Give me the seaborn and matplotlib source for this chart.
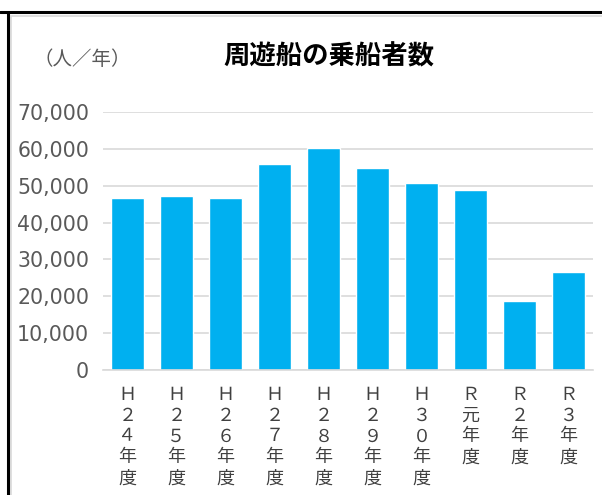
import matplotlib
matplotlib.use('Agg')
import matplotlib.pyplot as plt
import seaborn as sns
from matplotlib.lines import Line2D
from matplotlib.patches import Rectangle
from matplotlib.ticker import FuncFormatter

# data
years = ['Ｈ２４年度', 'Ｈ２５年度', 'Ｈ２６年度', 'Ｈ２７年度', 'Ｈ２８年度',
         'Ｈ２９年度', 'Ｈ３０年度', 'Ｒ元年度', 'Ｒ２年度', 'Ｒ３年度']
passengers = [46750, 47250, 46750, 55800, 60200, 54700, 50850, 48800, 18600, 26500]
yticks = [0, 10000, 20000, 30000, 40000, 50000, 60000, 70000]

sns.set_style('white')
plt.rcParams['font.family'] = ['Liberation Sans', 'Noto Sans CJK JP', 'DejaVu Sans']

fig = plt.figure(figsize=(6.02, 4.95), dpi=100)
ax = fig.add_axes([0.171, 0.2525, 0.814, 0.5212])

# stacked vertical labels
vlabels = ['\n'.join(list(y)) for y in years]
sns.barplot(x=vlabels, y=passengers, color='#00B0F0', saturation=1,
            width=0.67, ax=ax)

ax.set_xlim(-0.5, 9.5)
ax.set_ylim(0, 70000)
ax.set_yticks(yticks)
ax.yaxis.set_major_formatter(FuncFormatter(lambda v, p: f'{int(v):,}'))
ax.grid(axis='y', color='#D9D9D9', linewidth=1.2)
ax.set_axisbelow(True)
for s in ['left', 'right', 'top']:
    ax.spines[s].set_visible(False)
ax.spines['bottom'].set_color('#D9D9D9')
ax.spines['bottom'].set_linewidth(1.2)
ax.tick_params(axis='y', length=0, pad=10, labelcolor='#595959')
ax.tick_params(axis='x', length=0, pad=12, labelsize=13, labelcolor='#404040')
for t in ax.get_yticklabels():
    t.set_family(['DejaVu Sans'])
    t.set_fontsize(14.8)
for t in ax.get_xticklabels():
    t.set_linespacing(1.3)
    t.set_va('top')
ax.set_xlabel('')
ax.set_ylabel('')

fig.text(0.547, 0.885, '周遊船の乗船者数', fontsize=19, fontweight='bold',
         ha='center', va='center', color='black')
fig.text(0.137, 0.879, '（人／年）', fontsize=14, ha='center', va='center',
         color='#595959')

# chart area border and outer frame
fig.add_artist(Rectangle((11 / 602, -0.1), 1.2, 1 - 16 / 495 + 0.1,
                         transform=fig.transFigure, fill=False,
                         edgecolor='#D9D9D9', linewidth=1.2))
fig.add_artist(Line2D([0, 1], [1 - 12 / 495] * 2, color='black', linewidth=2.2))
fig.add_artist(Line2D([8 / 602] * 2, [0, 1 - 12 / 495], color='black', linewidth=2.2))

fig.savefig('out.png', dpi=100)
